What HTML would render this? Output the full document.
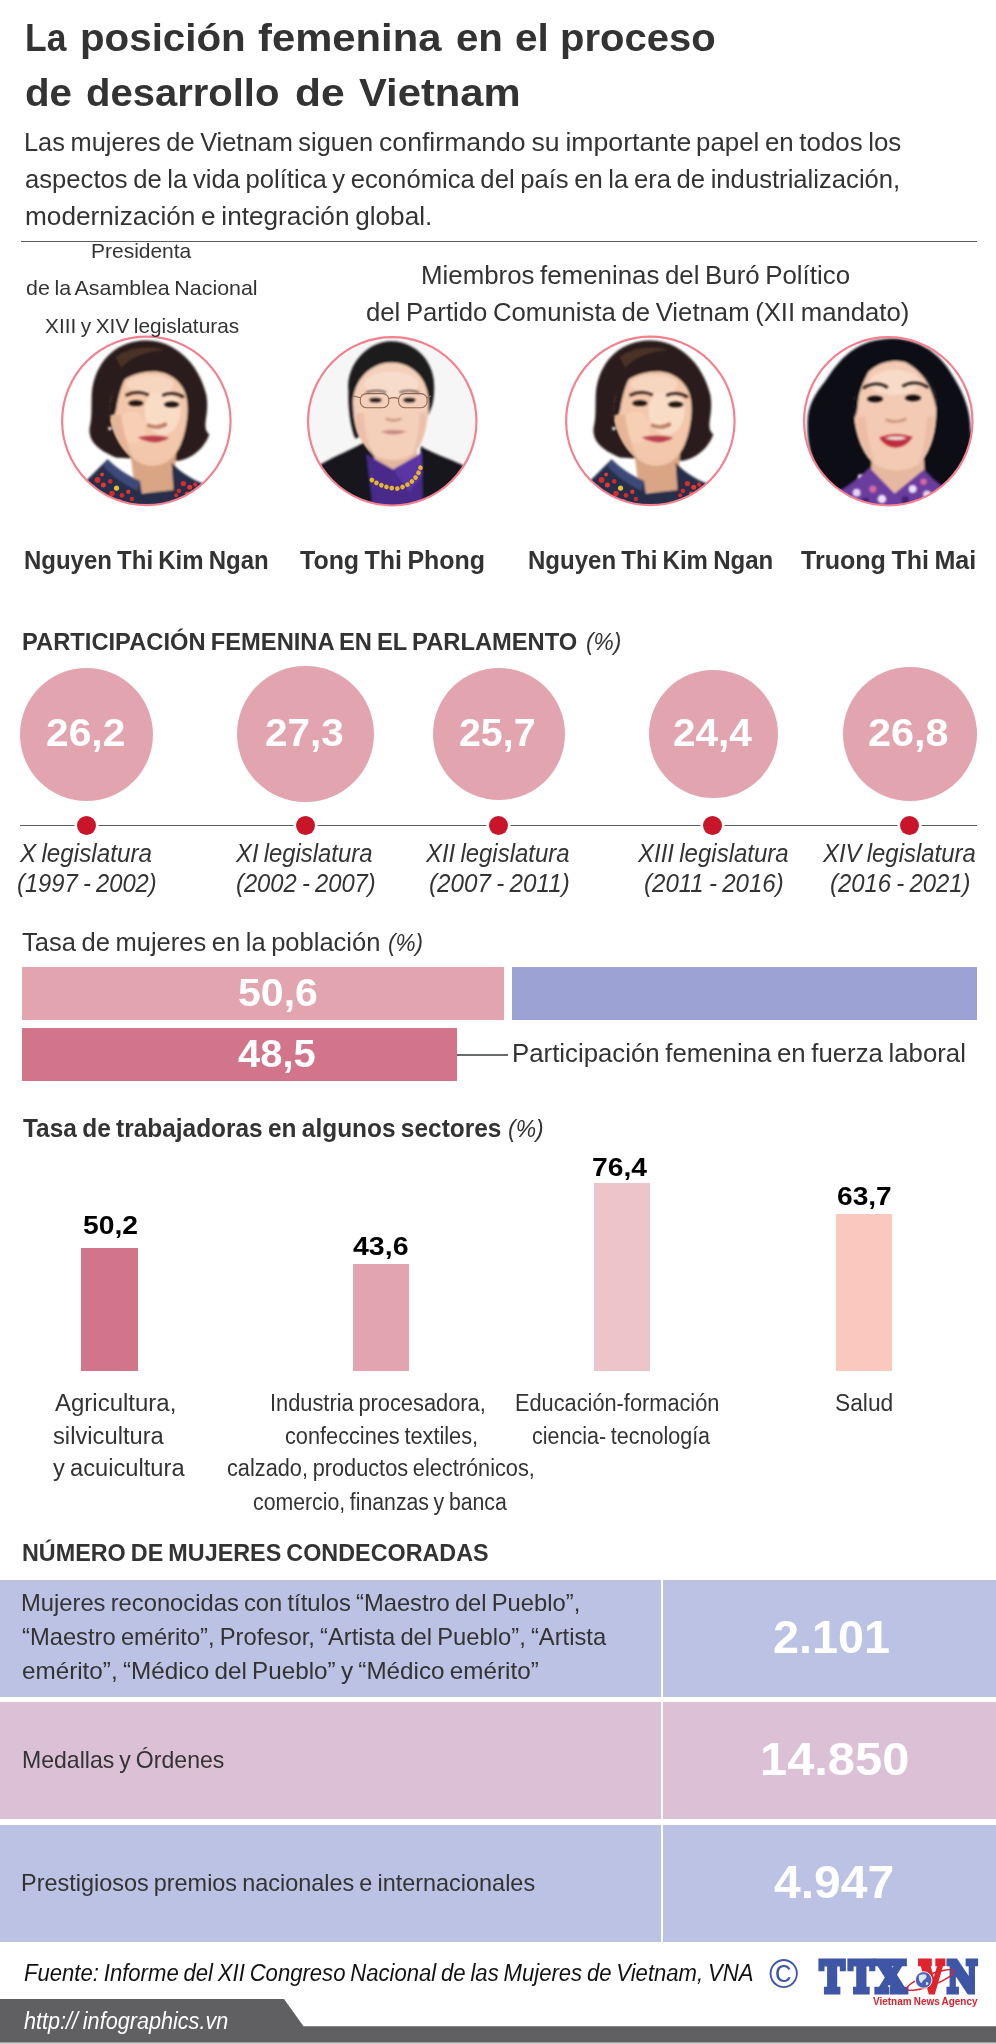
<!DOCTYPE html>
<html lang="es"><head><meta charset="utf-8"><title>La posición femenina en el proceso de desarrollo de Vietnam</title>
<style>
html,body{margin:0;padding:0;background:#fff}
body{width:996px;height:2044px;overflow:hidden;font-family:"Liberation Sans",sans-serif}
#page{position:relative;width:996px;height:2044px;background:#fff;overflow:hidden;color:#333}
#page *{box-sizing:border-box}
.t{position:absolute;margin:0;padding:0;white-space:nowrap;line-height:normal;font-family:"Liberation Sans",sans-serif;font-weight:400;font-style:normal;transform-origin:0 0;color:#333}
.t.b{font-weight:700}
.t.i{font-style:italic}
.abs{position:absolute}
.rule{position:absolute;background:#5c5c5c}
.portrait{position:absolute;overflow:visible}
.bub{position:absolute;border-radius:50%;background:#e2a5b0}
.dot{position:absolute;width:19px;height:19px;border-radius:50%;background:#c9152a;box-shadow:0 0 0 2.5px #fff}
.bar{position:absolute}
.row{position:absolute;left:0;width:996px}
.row .l{position:absolute;left:0;top:0;bottom:0;width:661.3px}
.row .r{position:absolute;left:663.2px;top:0;bottom:0;right:0}
.lav .l,.lav .r{background:#bcc2e3}
.pnk .l,.pnk .r{background:#dcc0d6}
#foot{position:absolute;left:0;top:1998.5px;width:996px;height:45.5px}
.logo{position:absolute;left:810px;top:1950px}
h1,p,.wordmark{margin:0;padding:0;font-size:0;line-height:0}

</style></head>
<body>
<div id="page">
<header>
<div class="rule" style="left:20.5px;top:241px;width:956.5px;height:1.3px"></div>
</header>

<section id="leaders">
<svg class="portrait" style="left:56px;top:330px" width="180" height="180" viewBox="0 0 180 180" role="img" aria-label="portrait">
<defs><clipPath id="clipa"><circle cx="500" cy="503" r="466"/></clipPath>
<filter id="bla" x="-20%" y="-20%" width="140%" height="140%"><feGaussianBlur stdDeviation="6"/></filter>
<filter id="bsa" x="-20%" y="-20%" width="140%" height="140%"><feGaussianBlur stdDeviation="14"/></filter></defs>
<g transform="scale(0.18072)">
<g clip-path="url(#clipa)">
<rect x="0" y="0" width="1000" height="1000" fill="#ffffff"/>

<g filter="url(#bla)">
<path d="M490,58 C650,52 790,180 832,360 C852,470 800,535 848,578 C815,670 730,722 660,725 L330,705 C235,665 178,620 186,540 C203,480 193,400 200,330 C228,150 350,63 490,58 Z" fill="#2a1d1a"/>
<path d="M405,640 L665,640 L655,900 L440,900 Z" fill="#d9a584"/>
<path d="M298,440 C296,380 318,330 345,300 C400,250 470,232 540,230 C620,230 690,280 715,350 C735,410 730,480 716,545 C700,625 672,692 616,728 C560,764 480,760 425,708 C345,630 300,530 298,440 Z" fill="#f2c7ab"/>
<path d="M298,440 C296,360 330,290 390,255 C360,310 345,370 335,430 C328,470 315,490 300,500 Z" fill="#2a1d1a"/>
<ellipse cx="590" cy="450" rx="100" ry="130" fill="#f9dcc6"/>
<ellipse cx="420" cy="540" rx="80" ry="90" fill="#f6cfb5"/>
<ellipse cx="520" cy="300" rx="130" ry="50" fill="#f7d6bf"/>
<path d="M165,835 L285,715 C330,760 400,810 465,835 L475,905 L650,885 L640,735 C690,790 760,830 815,850 L830,1000 L150,1000 Z" fill="#262d49"/>
<path d="M285,715 C330,760 400,810 465,835 L455,890 C380,860 300,800 260,750 Z" fill="#3d4a78"/>
</g>
<g filter="url(#bla)">
<path d="M300,470 C310,560 350,650 420,705 C400,640 370,560 360,470 Z" fill="#e6b597"/>
<path d="M330,150 C400,95 520,85 600,110 C520,115 420,140 360,210 Z" fill="#4b3228"/>
<ellipse cx="442" cy="405" rx="42" ry="16" fill="#24160f"/>
<ellipse cx="640" cy="412" rx="42" ry="16" fill="#24160f"/>
<path d="M385,362 Q450,330 512,360" stroke="#3f2820" stroke-width="15" fill="none"/>
<path d="M588,362 Q650,336 708,372" stroke="#3f2820" stroke-width="15" fill="none"/>
<path d="M505,525 Q560,552 612,518" stroke="#bd8166" stroke-width="20" fill="none"/>
<path d="M452,594 Q540,574 626,596 Q545,646 452,594 Z" fill="#bb3f4e"/>
<circle cx="298" cy="545" r="10" fill="#fff"/>
</g>
<g>
<circle cx="230" cy="830" r="16" fill="#d52b2b"/><circle cx="262" cy="858" r="14" fill="#e0392f"/><circle cx="300" cy="838" r="13" fill="#c92a2a"/>
<circle cx="335" cy="875" r="14" fill="#e6c23a"/><circle cx="310" cy="905" r="15" fill="#d52b2b"/><circle cx="365" cy="915" r="13" fill="#d52b2b"/>
<circle cx="255" cy="800" r="11" fill="#e0392f"/><circle cx="400" cy="895" r="12" fill="#e0392f"/><circle cx="420" cy="935" r="12" fill="#c92a2a"/>
<circle cx="205" cy="865" r="10" fill="#3e8a5a"/><circle cx="350" cy="945" r="11" fill="#d52b2b"/>
<circle cx="705" cy="850" r="15" fill="#d52b2b"/><circle cx="740" cy="870" r="14" fill="#e0392f"/><circle cx="680" cy="890" r="13" fill="#c92a2a"/>
<circle cx="770" cy="855" r="12" fill="#d52b2b"/><circle cx="725" cy="905" r="12" fill="#e0392f"/><circle cx="665" cy="915" r="11" fill="#d52b2b"/>
</g>
</g>
<circle cx="500" cy="503" r="466" fill="none" stroke="#f3808e" stroke-width="12"/>
</g></svg>
<svg class="portrait" style="left:301px;top:330px" width="180" height="180" viewBox="0 0 180 180" role="img" aria-label="portrait">
<defs><clipPath id="clipb"><circle cx="505" cy="505" r="466"/></clipPath>
<filter id="blb" x="-20%" y="-20%" width="140%" height="140%"><feGaussianBlur stdDeviation="6"/></filter>
<filter id="bsb" x="-20%" y="-20%" width="140%" height="140%"><feGaussianBlur stdDeviation="14"/></filter></defs>
<g transform="scale(0.18072)">
<g clip-path="url(#clipb)">
<rect x="0" y="0" width="1000" height="1000" fill="#ffffff"/>

<rect x="0" y="0" width="1000" height="1000" fill="#f6f6f7"/>
<g filter="url(#blb)">
<path d="M262,335 C250,180 380,60 500,62 C640,65 742,180 737,320 C737,380 727,425 715,445 L705,470 L300,600 C272,540 260,425 262,335 Z" fill="#1c1a1d"/>
<path d="M400,640 L640,640 L650,820 L400,820 Z" fill="#e3b79e"/>
<path d="M288,410 C286,280 385,180 500,180 C620,180 708,275 706,405 C706,520 682,622 622,682 C570,732 450,732 390,682 C320,622 290,520 288,410 Z" fill="#f4cfb9"/>
<ellipse cx="500" cy="300" rx="150" ry="70" fill="#f8dccb"/>
<path d="M105,745 C200,690 300,655 352,618 L405,700 L425,1000 L90,1000 Z" fill="#19191b"/>
<path d="M662,640 C700,672 800,702 905,752 L915,1000 L640,1000 L660,745 Z" fill="#19191b"/>
<path d="M362,688 L510,772 L668,680 L675,1000 L400,1000 Z" fill="#4a2a8b"/>
<path d="M510,772 L668,680 L672,800 L600,900 Z" fill="#5a35a3"/>
</g>
<g filter="url(#blb)">
<path d="M300,460 C305,560 340,640 395,685 C370,620 350,550 348,460 Z" fill="#ecc0a8"/>
<path d="M695,460 C690,560 665,640 618,685 C640,620 655,550 656,460 Z" fill="#ecc0a8"/>
<ellipse cx="412" cy="388" rx="34" ry="12" fill="#241815"/>
<ellipse cx="600" cy="388" rx="34" ry="12" fill="#241815"/>
<path d="M360,345 Q420,325 470,345" stroke="#6b5048" stroke-width="10" fill="none"/>
<path d="M545,345 Q600,325 655,348" stroke="#6b5048" stroke-width="10" fill="none"/>
<path d="M470,490 Q510,510 555,490" stroke="#d09a84" stroke-width="14" fill="none"/>
<path d="M440,562 Q510,548 585,562 Q512,592 440,562 Z" fill="#c88484"/>
</g>
<rect x="328" y="352" width="158" height="78" rx="34" fill="none" stroke="#8b6a55" stroke-width="6"/>
<rect x="540" y="352" width="158" height="78" rx="34" fill="none" stroke="#8b6a55" stroke-width="6"/>
<path d="M486,380 Q513,368 540,380 M328,375 L290,365 M698,375 L720,365" stroke="#8b6a55" stroke-width="6" fill="none"/>
<path d="M392,830 Q450,872 530,878 Q610,860 645,800 Q662,770 665,742" stroke="#e6b531" stroke-width="26" stroke-linecap="round" stroke-dasharray="0.1 30" fill="none"/>
</g>
<circle cx="505" cy="505" r="466" fill="none" stroke="#f3808e" stroke-width="12"/>
</g></svg>
<svg class="portrait" style="left:559.6px;top:330px" width="180" height="180" viewBox="0 0 180 180" role="img" aria-label="portrait">
<defs><clipPath id="clipc"><circle cx="500" cy="503" r="466"/></clipPath>
<filter id="blc" x="-20%" y="-20%" width="140%" height="140%"><feGaussianBlur stdDeviation="6"/></filter>
<filter id="bsc" x="-20%" y="-20%" width="140%" height="140%"><feGaussianBlur stdDeviation="14"/></filter></defs>
<g transform="scale(0.18072)">
<g clip-path="url(#clipc)">
<rect x="0" y="0" width="1000" height="1000" fill="#ffffff"/>

<g filter="url(#blc)">
<path d="M490,58 C650,52 790,180 832,360 C852,470 800,535 848,578 C815,670 730,722 660,725 L330,705 C235,665 178,620 186,540 C203,480 193,400 200,330 C228,150 350,63 490,58 Z" fill="#2a1d1a"/>
<path d="M405,640 L665,640 L655,900 L440,900 Z" fill="#d9a584"/>
<path d="M298,440 C296,380 318,330 345,300 C400,250 470,232 540,230 C620,230 690,280 715,350 C735,410 730,480 716,545 C700,625 672,692 616,728 C560,764 480,760 425,708 C345,630 300,530 298,440 Z" fill="#f2c7ab"/>
<path d="M298,440 C296,360 330,290 390,255 C360,310 345,370 335,430 C328,470 315,490 300,500 Z" fill="#2a1d1a"/>
<ellipse cx="590" cy="450" rx="100" ry="130" fill="#f9dcc6"/>
<ellipse cx="420" cy="540" rx="80" ry="90" fill="#f6cfb5"/>
<ellipse cx="520" cy="300" rx="130" ry="50" fill="#f7d6bf"/>
<path d="M165,835 L285,715 C330,760 400,810 465,835 L475,905 L650,885 L640,735 C690,790 760,830 815,850 L830,1000 L150,1000 Z" fill="#262d49"/>
<path d="M285,715 C330,760 400,810 465,835 L455,890 C380,860 300,800 260,750 Z" fill="#3d4a78"/>
</g>
<g filter="url(#blc)">
<path d="M300,470 C310,560 350,650 420,705 C400,640 370,560 360,470 Z" fill="#e6b597"/>
<path d="M330,150 C400,95 520,85 600,110 C520,115 420,140 360,210 Z" fill="#4b3228"/>
<ellipse cx="442" cy="405" rx="42" ry="16" fill="#24160f"/>
<ellipse cx="640" cy="412" rx="42" ry="16" fill="#24160f"/>
<path d="M385,362 Q450,330 512,360" stroke="#3f2820" stroke-width="15" fill="none"/>
<path d="M588,362 Q650,336 708,372" stroke="#3f2820" stroke-width="15" fill="none"/>
<path d="M505,525 Q560,552 612,518" stroke="#bd8166" stroke-width="20" fill="none"/>
<path d="M452,594 Q540,574 626,596 Q545,646 452,594 Z" fill="#bb3f4e"/>
<circle cx="298" cy="545" r="10" fill="#fff"/>
</g>
<g>
<circle cx="230" cy="830" r="16" fill="#d52b2b"/><circle cx="262" cy="858" r="14" fill="#e0392f"/><circle cx="300" cy="838" r="13" fill="#c92a2a"/>
<circle cx="335" cy="875" r="14" fill="#e6c23a"/><circle cx="310" cy="905" r="15" fill="#d52b2b"/><circle cx="365" cy="915" r="13" fill="#d52b2b"/>
<circle cx="255" cy="800" r="11" fill="#e0392f"/><circle cx="400" cy="895" r="12" fill="#e0392f"/><circle cx="420" cy="935" r="12" fill="#c92a2a"/>
<circle cx="205" cy="865" r="10" fill="#3e8a5a"/><circle cx="350" cy="945" r="11" fill="#d52b2b"/>
<circle cx="705" cy="850" r="15" fill="#d52b2b"/><circle cx="740" cy="870" r="14" fill="#e0392f"/><circle cx="680" cy="890" r="13" fill="#c92a2a"/>
<circle cx="770" cy="855" r="12" fill="#d52b2b"/><circle cx="725" cy="905" r="12" fill="#e0392f"/><circle cx="665" cy="915" r="11" fill="#d52b2b"/>
</g>
</g>
<circle cx="500" cy="503" r="466" fill="none" stroke="#f3808e" stroke-width="12"/>
</g></svg>
<svg class="portrait" style="left:797px;top:330px" width="180" height="180" viewBox="0 0 180 180" role="img" aria-label="portrait">
<defs><clipPath id="clipd"><circle cx="505" cy="505" r="466"/></clipPath>
<filter id="bld" x="-20%" y="-20%" width="140%" height="140%"><feGaussianBlur stdDeviation="6"/></filter>
<filter id="bsd" x="-20%" y="-20%" width="140%" height="140%"><feGaussianBlur stdDeviation="14"/></filter></defs>
<g transform="scale(0.18072)">
<g clip-path="url(#clipd)">
<rect x="0" y="0" width="1000" height="1000" fill="#ffffff"/>

<rect x="0" y="0" width="1000" height="1000" fill="#fbfbfd"/>
<path d="M860,560 L1000,560 L1000,830 L860,830 Z" fill="#2f3a34" filter="url(#bsd)"/>
<g filter="url(#bld)">
<path d="M500,48 C610,42 740,80 830,205 C890,295 935,375 952,470 C978,610 925,760 885,835 C810,905 705,885 700,800 L340,800 C330,885 250,905 198,872 C98,800 48,650 60,480 C70,400 110,340 155,285 C215,195 300,60 500,48 Z" fill="#0b1119"/>
<path d="M415,700 L700,700 L715,900 L400,900 Z" fill="#e6b89f"/>
<path d="M315,430 C312,285 420,172 545,172 C680,172 772,290 770,435 C770,560 742,662 682,732 C622,792 480,792 420,732 C350,662 316,545 315,430 Z" fill="#f3cab3"/>
<path d="M315,430 C312,330 350,250 410,205 C375,270 345,330 338,400 C335,450 325,480 318,490 Z" fill="#0b1119"/>
<path d="M600,178 C700,200 770,300 770,435 C760,380 735,300 690,250 C660,215 630,195 600,178 Z" fill="#0b1119"/>
<ellipse cx="540" cy="290" rx="140" ry="70" fill="#f8dac8"/>
<path d="M240,890 C330,835 382,785 402,762 L540,905 L702,772 C742,822 795,865 840,885 L850,1000 L230,1000 Z" fill="#6b3d9e"/>
</g>
<g filter="url(#bld)">
<path d="M330,480 C335,580 370,670 430,735 C405,660 385,580 380,480 Z" fill="#ecbca4"/>
<path d="M760,480 C755,580 730,670 675,735 C700,660 715,580 718,480 Z" fill="#ecbca4"/>
<ellipse cx="432" cy="382" rx="44" ry="18" fill="#160e0e"/>
<ellipse cx="642" cy="376" rx="44" ry="18" fill="#160e0e"/>
<path d="M365,322 Q440,276 502,318" stroke="#2e201e" stroke-width="16" fill="none"/>
<path d="M583,312 Q650,270 727,318" stroke="#2e201e" stroke-width="16" fill="none"/>
<path d="M490,495 Q545,520 605,492" stroke="#cf977f" stroke-width="16" fill="none"/>
<path d="M455,595 Q545,560 640,592 Q600,650 545,650 Q490,650 455,595 Z" fill="#bf2f3e"/>
<path d="M485,598 Q545,585 610,597 Q545,618 485,598 Z" fill="#f7efe9"/>
<circle cx="330" cy="900" r="22" fill="#e9d6ee"/><circle cx="420" cy="880" r="20" fill="#d86aa0"/><circle cx="470" cy="935" r="24" fill="#efe3f3"/>
<circle cx="640" cy="880" r="22" fill="#efe3f3"/><circle cx="700" cy="840" r="18" fill="#d86aa0"/><circle cx="720" cy="910" r="22" fill="#e9d6ee"/>
<circle cx="380" cy="945" r="18" fill="#3f2470"/><circle cx="600" cy="940" r="20" fill="#3f2470"/>
</g>
</g>
<circle cx="505" cy="505" r="466" fill="none" stroke="#f3808e" stroke-width="12"/>
</g></svg>
</section>

<section id="parliament">
<div class="bub" style="left:20px;top:667.5px;width:133px;height:133px"></div>
<div class="bub" style="left:237px;top:665.5px;width:136.5px;height:136.5px"></div>
<div class="bub" style="left:432.5px;top:667.5px;width:132.5px;height:132.5px"></div>
<div class="bub" style="left:648.75px;top:669.5px;width:128.75px;height:128.75px"></div>
<div class="bub" style="left:842.75px;top:667px;width:134px;height:134px"></div>
<div class="rule" style="left:20px;top:825px;width:956.5px;height:1.3px"></div>
<div class="dot" style="left:77.1px;top:816px"></div>
<div class="dot" style="left:295.9px;top:816px"></div>
<div class="dot" style="left:488.9px;top:816px"></div>
<div class="dot" style="left:703.4px;top:816px"></div>
<div class="dot" style="left:900px;top:816px"></div>
</section>

<section id="population">
<div class="bar" style="left:21.5px;top:967px;width:482.25px;height:53px;background:#e2a5b0"></div>
<div class="bar" style="left:512px;top:967px;width:465px;height:53px;background:#9ca3d4"></div>
<div class="bar" style="left:21.5px;top:1028px;width:435.5px;height:53.25px;background:#d3758a"></div>
<div class="rule" style="left:457px;top:1053.6px;width:51px;height:2px;background:#686b6e"></div>
</section>

<section id="sectors">
<div class="bar" style="left:81.25px;top:1247.5px;width:56.25px;height:123.25px;background:#d3758a"></div>
<div class="bar" style="left:352.5px;top:1263.75px;width:56.25px;height:107px;background:#e2a5b0"></div>
<div class="bar" style="left:593.75px;top:1183.25px;width:56.25px;height:187.5px;background:#eec4cb"></div>
<div class="bar" style="left:835.75px;top:1214.25px;width:56.25px;height:156.5px;background:#fac8bc"></div>
</section>

<section id="awards">
<div class="row lav" style="top:1580px;height:116.5px"><div class="l"></div><div class="r"></div></div>
<div class="row pnk" style="top:1702px;height:116.5px"><div class="l"></div><div class="r"></div></div>
<div class="row lav" style="top:1825px;height:116.75px"><div class="l"></div><div class="r"></div></div>
</section>

<footer>
<svg id="foot" viewBox="0 0 996 45.5" preserveAspectRatio="none"><path d="M0,0 L284,0 L303.5,27.2 L996,27.2 L996,43.7 L0,43.7 Z" fill="#606062"/><rect x="0" y="43.7" width="996" height="1.8" fill="#cfcfcf"/></svg>

</footer>

<h1>
<span class="t b" style="left:25.21px;top:15.00px;font-size:39.5px;transform:scaleX(0.8974)">La</span>
<span class="t b" style="left:80.46px;top:15.00px;font-size:39.5px;transform:scaleX(1.0204)">posición</span>
<span class="t b" style="left:258.00px;top:15.00px;font-size:39.5px;transform:scaleX(1.0577)">femenina</span>
<span class="t b" style="left:456.48px;top:15.00px;font-size:39.5px;transform:scaleX(1.0182)">en</span>
<span class="t b" style="left:515.22px;top:15.00px;font-size:39.5px;transform:scaleX(1.0261)">el</span>
<span class="t b" style="left:560.47px;top:15.00px;font-size:39.5px;transform:scaleX(1.0131)">proceso</span>
<span class="t b" style="left:25.23px;top:70.00px;font-size:39.5px;transform:scaleX(1.0198)">de</span>
<span class="t b" style="left:86.49px;top:70.00px;font-size:39.5px;transform:scaleX(1.0127)">desarrollo</span>
<span class="t b" style="left:295.17px;top:70.00px;font-size:39.5px;transform:scaleX(1.0764)">de</span>
<span class="t b" style="left:358.75px;top:70.00px;font-size:39.5px;transform:scaleX(1.0575)">Vietnam</span>
</h1>
<p>
<span class="t" style="left:23.72px;top:128.00px;font-size:25px;transform:scaleX(1.0159);word-spacing:-1.500px">Las mujeres de Vietnam siguen</span>
<span class="t" style="left:379.18px;top:128.00px;font-size:25px;transform:scaleX(1.0659);word-spacing:-1.500px">confirmando su importante</span>
<span class="t" style="left:696.22px;top:128.00px;font-size:25px;transform:scaleX(1.0346);word-spacing:-1.500px">papel en todos los</span>
<span class="t" style="left:24.72px;top:164.50px;font-size:25px;transform:scaleX(1.0258);word-spacing:-1.500px">aspectos de la vida política y económica del país en la era de industrialización,</span>
<span class="t" style="left:24.70px;top:201.50px;font-size:25px;transform:scaleX(1.0477);word-spacing:-1.500px">modernización e integración global.</span>
</p>
<span class="t" style="left:90.97px;top:239.50px;font-size:20.3px;transform:scaleX(1.0343)">Presidenta</span>
<span class="t" style="left:25.75px;top:276.50px;font-size:20.3px;transform:scaleX(1.0548);word-spacing:-1.218px">de la Asamblea Nacional</span>
<span class="t" style="left:45.00px;top:314.50px;font-size:20.3px;transform:scaleX(1.0267);word-spacing:-1.218px">XIII y XIV legislaturas</span>
<span class="t" style="left:420.93px;top:261.00px;font-size:25px;transform:scaleX(1.0337);word-spacing:-1.500px">Miembros femeninas del Buró Político</span>
<span class="t" style="left:365.97px;top:298.00px;font-size:25px;transform:scaleX(1.0285);word-spacing:-1.500px">del Partido Comunista de Vietnam (XII mandato)</span>
<b class="t b" style="left:24.04px;top:545.75px;font-size:25px;transform:scaleX(0.9587);word-spacing:-1.500px">Nguyen Thi Kim Ngan</b>
<b class="t b" style="left:300.25px;top:545.75px;font-size:25px;transform:scaleX(0.9981);word-spacing:-1.500px">Tong Thi Phong</b>
<b class="t b" style="left:528.04px;top:545.75px;font-size:25px;transform:scaleX(0.9606);word-spacing:-1.500px">Nguyen Thi Kim Ngan</b>
<b class="t b" style="left:800.75px;top:545.75px;font-size:25px;transform:scaleX(1.0025);word-spacing:-1.500px">Truong Thi Mai</b>
<h2 class="t b" style="left:21.53px;top:627.50px;font-size:24.5px;transform:scaleX(0.9681);word-spacing:-1.470px">PARTICIPACIÓN FEMENINA EN EL PARLAMENTO</h2>
<i class="t i" style="left:586.05px;top:627.50px;font-size:24px;transform:scaleX(0.9481)">(%)</i>
<b class="t b" style="left:46.46px;top:710.75px;font-size:39.2px;transform:scaleX(1.0406);color:#fff">26,2</b>
<b class="t b" style="left:264.97px;top:710.75px;font-size:39.2px;transform:scaleX(1.0339);color:#fff">27,3</b>
<b class="t b" style="left:458.50px;top:710.75px;font-size:39.2px;transform:scaleX(1.0037);color:#fff">25,7</b>
<b class="t b" style="left:672.72px;top:710.75px;font-size:39.2px;transform:scaleX(1.0334);color:#fff">24,4</b>
<b class="t b" style="left:868.44px;top:710.75px;font-size:39.2px;transform:scaleX(1.0574);color:#fff">26,8</b>
<i class="t i" style="left:20.47px;top:839.00px;font-size:25px;transform:scaleX(0.9696);word-spacing:-1.500px">X legislatura</i>
<i class="t i" style="left:17.05px;top:869.00px;font-size:25px;transform:scaleX(0.9498);word-spacing:-1.500px">(1997 - 2002)</i>
<i class="t i" style="left:236.45px;top:839.00px;font-size:25px;transform:scaleX(0.9541);word-spacing:-1.500px">XI legislatura</i>
<i class="t i" style="left:236.05px;top:869.00px;font-size:25px;transform:scaleX(0.9498);word-spacing:-1.500px">(2002 - 2007)</i>
<i class="t i" style="left:426.46px;top:839.00px;font-size:25px;transform:scaleX(0.9566);word-spacing:-1.500px">XII legislatura</i>
<i class="t i" style="left:428.53px;top:869.00px;font-size:25px;transform:scaleX(0.9691);word-spacing:-1.500px">(2007 - 2011)</i>
<i class="t i" style="left:637.96px;top:839.00px;font-size:25px;transform:scaleX(0.9604);word-spacing:-1.500px">XIII legislatura</i>
<i class="t i" style="left:644.04px;top:869.00px;font-size:25px;transform:scaleX(0.9621);word-spacing:-1.500px">(2011 - 2016)</i>
<i class="t i" style="left:822.96px;top:839.00px;font-size:25px;transform:scaleX(0.9562);word-spacing:-1.500px">XIV legislatura</i>
<i class="t i" style="left:829.80px;top:869.00px;font-size:25px;transform:scaleX(0.9549);word-spacing:-1.500px">(2016 - 2021)</i>
<span class="t" style="left:22.00px;top:927.75px;font-size:25px;transform:scaleX(1.0210);word-spacing:-1.500px">Tasa de mujeres en la población</span>
<i class="t i" style="left:387.81px;top:928.75px;font-size:24px;transform:scaleX(0.9411)">(%)</i>
<b class="t b" style="left:237.67px;top:970.75px;font-size:38.2px;transform:scaleX(1.0751);color:#fff">50,6</b>
<b class="t b" style="left:238.00px;top:1032.00px;font-size:38.2px;transform:scaleX(1.0461);color:#fff">48,5</b>
<span class="t" style="left:511.69px;top:1039.00px;font-size:25px;transform:scaleX(1.0314);word-spacing:-1.500px">Participación femenina en fuerza laboral</span>
<h2 class="t b" style="left:22.50px;top:1114.00px;font-size:25px;transform:scaleX(0.9774);word-spacing:-1.500px">Tasa de trabajadoras en algunos sectores</h2>
<i class="t i" style="left:507.79px;top:1115.00px;font-size:24px;transform:scaleX(0.9552)">(%)</i>
<b class="t b" style="left:82.50px;top:1209.75px;font-size:26px;transform:scaleX(1.0869);color:#000">50,2</b>
<b class="t b" style="left:353.00px;top:1230.50px;font-size:26px;transform:scaleX(1.0969);color:#000">43,6</b>
<b class="t b" style="left:591.91px;top:1152.25px;font-size:26px;transform:scaleX(1.0869);color:#000">76,4</b>
<b class="t b" style="left:836.50px;top:1181.00px;font-size:26px;transform:scaleX(1.0819);color:#000">63,7</b>
<span class="t" style="left:54.50px;top:1389.50px;font-size:23.5px;transform:scaleX(1.0207)">Agricultura,</span>
<span class="t" style="left:53.25px;top:1422.75px;font-size:23.5px;transform:scaleX(1.0101)">silvicultura</span>
<span class="t" style="left:53.25px;top:1455.25px;font-size:23.5px;transform:scaleX(1.0080);word-spacing:-1.410px">y acuicultura</span>
<span class="t" style="left:270.14px;top:1389.50px;font-size:23.5px;transform:scaleX(0.9284);word-spacing:-1.410px">Industria procesadora,</span>
<span class="t" style="left:284.58px;top:1422.75px;font-size:23.5px;transform:scaleX(0.9244);word-spacing:-1.410px">confeccines textiles,</span>
<span class="t" style="left:226.58px;top:1455.25px;font-size:23.5px;transform:scaleX(0.9247);word-spacing:-1.410px">calzado, productos electrónicos,</span>
<span class="t" style="left:252.85px;top:1489.00px;font-size:23.5px;transform:scaleX(0.9048);word-spacing:-1.410px">comercio, finanzas y banca</span>
<span class="t" style="left:514.82px;top:1389.50px;font-size:23.5px;transform:scaleX(0.9260)">Educación-formación</span>
<span class="t" style="left:531.58px;top:1422.75px;font-size:23.5px;transform:scaleX(0.9153);word-spacing:-1.410px">ciencia- tecnología</span>
<span class="t" style="left:834.78px;top:1389.50px;font-size:23.5px;transform:scaleX(0.9693)">Salud</span>
<h2 class="t b" style="left:21.54px;top:1538.50px;font-size:24.3px;transform:scaleX(0.9609);word-spacing:-1.458px">NÚMERO DE MUJERES CONDECORADAS</h2>
<span class="t" style="left:20.98px;top:1590.25px;font-size:23.2px;transform:scaleX(1.0246);word-spacing:-1.392px">Mujeres reconocidas con títulos “Maestro del Pueblo”,</span>
<span class="t" style="left:22.00px;top:1624.00px;font-size:23.2px;transform:scaleX(1.0244);word-spacing:-1.392px">“Maestro emérito”, Profesor, “Artista del Pueblo”, “Artista</span>
<span class="t" style="left:22.00px;top:1657.75px;font-size:23.2px;transform:scaleX(1.0456);word-spacing:-1.392px">emérito”, “Médico del Pueblo” y “Médico emérito”</span>
<span class="t" style="left:21.51px;top:1746.50px;font-size:23.2px;transform:scaleX(0.9946);word-spacing:-1.392px">Medallas y Órdenes</span>
<span class="t" style="left:20.99px;top:1869.50px;font-size:23.2px;transform:scaleX(1.0106);word-spacing:-1.392px">Prestigiosos premios nacionales e internacionales</span>
<b class="t b" style="left:772.68px;top:1611.60px;font-size:45.8px;transform:scaleX(1.0209);color:#fff">2.101</b>
<b class="t b" style="left:760.47px;top:1733.70px;font-size:45.8px;transform:scaleX(1.0659);color:#fff">14.850</b>
<b class="t b" style="left:773.70px;top:1856.80px;font-size:45.8px;transform:scaleX(1.0501);color:#fff">4.947</b>
<i class="t i" style="left:24.25px;top:1959.50px;font-size:23.5px;transform:scaleX(0.9404);word-spacing:-1.410px;color:#111">Fuente: Informe del XII Congreso Nacional de las Mujeres de Vietnam, VNA</i>
<i class="t i" style="left:24.25px;top:2007.75px;font-size:23.5px;transform:scaleX(0.9201);word-spacing:-1.410px;color:#fff">http:// infographics.vn</i>
<b class="t b" style="left:873.25px;top:1994.50px;font-size:10.5px;transform:scaleX(0.9481);word-spacing:-0.630px;color:#d8232f">Vietnam News Agency</b>
<span class="t" style="left:769.00px;top:1951.20px;font-size:41px;transform:scaleX(0.9750);color:#3f55a5">©</span>
<div class="wordmark" aria-label="TTXVN">
<b class="t b" style="left:819.80px;top:1950.70px;font-size:43.5px;transform:scaleX(0.7500);color:#3f55a5;font-family:'DejaVu Serif','Liberation Serif',serif;-webkit-text-stroke:5.2px #3f55a5">T</b>
<b class="t b" style="left:849.00px;top:1950.70px;font-size:43.5px;transform:scaleX(0.7625);color:#3f55a5;font-family:'DejaVu Serif','Liberation Serif',serif;-webkit-text-stroke:5.2px #3f55a5">T</b>
<b class="t b" style="left:875.60px;top:1950.70px;font-size:43.5px;transform:scaleX(0.8912);color:#3f55a5;font-family:'DejaVu Serif','Liberation Serif',serif;-webkit-text-stroke:5.2px #3f55a5">X</b>
<b class="t b" style="left:946.53px;top:1950.70px;font-size:43.5px;transform:scaleX(0.7658);color:#3f55a5;font-family:'DejaVu Serif','Liberation Serif',serif;-webkit-text-stroke:5.2px #3f55a5">N</b>
<b class="t b" style="left:919.89px;top:1950.70px;font-size:43.5px;transform:scaleX(0.6861);color:#e0242e;font-family:'DejaVu Serif','Liberation Serif',serif;-webkit-text-stroke:5.2px #e0242e">V</b>
</div>
<svg class="logo" width="180" height="60" viewBox="0 0 180 60" aria-hidden="true">
<ellipse cx="120.5" cy="30" rx="25" ry="5.6" fill="none" stroke="#e0242e" stroke-width="1.4" transform="rotate(-21 120.5 30)"/>
<circle cx="113.6" cy="30" r="8.3" fill="#4a62b4" stroke="#fff" stroke-width="0.9"/>
<path d="M109,25.5 q3,-2 6.5,-1 q2.2,2 0,4.2 q-3,1 -4,4.5 q-3.4,-2 -2.5,-7.7z" fill="#dfe6f7"/>
<path d="M116,32 q2,-0.5 2.5,1.5 q-1,2 -2.5,1.5z" fill="#dfe6f7"/>
</svg>
</div>

</body></html>
